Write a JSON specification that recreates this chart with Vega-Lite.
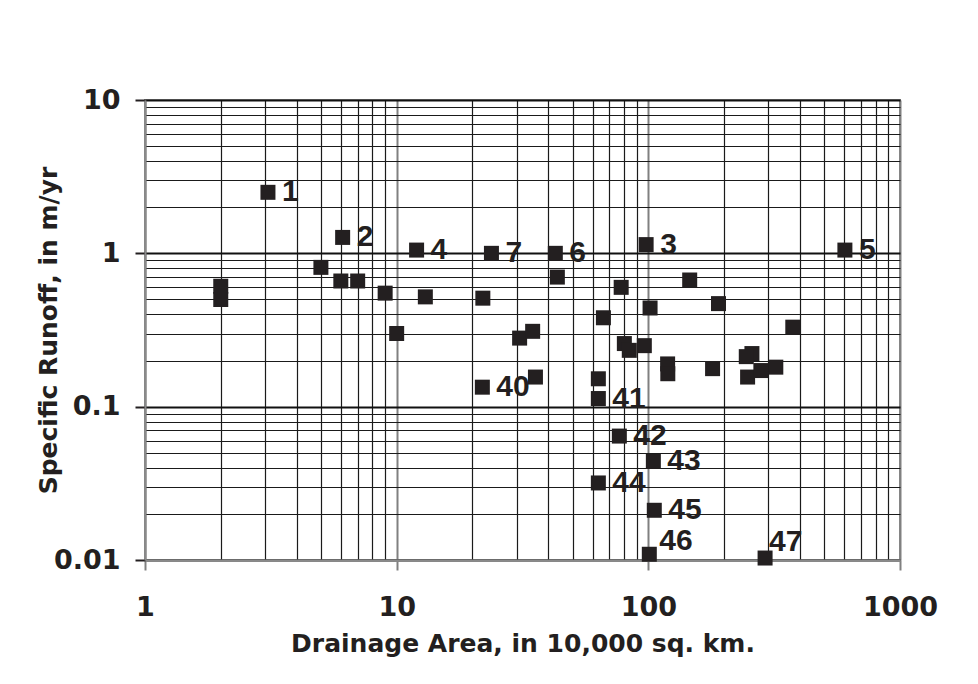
{
  "$schema": "https://vega.github.io/schema/vega-lite/v6.json",
  "width": 755,
  "height": 460,
  "autosize": "none",
  "padding": {"left": 145, "top": 100, "right": 78, "bottom": 124},
  "background": "white",
  "config": {"view": {"stroke": "#8a8a8a", "strokeWidth": 2}, "font": "DejaVu Sans"},
  "data": {"values": [
    {"area": 3.08, "runoff": 2.5, "label": "1"},
    {"area": 2.0, "runoff": 0.61, "label": ""},
    {"area": 2.0, "runoff": 0.5, "label": ""},
    {"area": 6.1, "runoff": 1.27, "label": "2"},
    {"area": 5.0, "runoff": 0.81, "label": ""},
    {"area": 6.0, "runoff": 0.66, "label": ""},
    {"area": 7.0, "runoff": 0.66, "label": ""},
    {"area": 9.0, "runoff": 0.55, "label": ""},
    {"area": 12.0, "runoff": 1.05, "label": "4"},
    {"area": 13.0, "runoff": 0.52, "label": ""},
    {"area": 10.0, "runoff": 0.3, "label": ""},
    {"area": 23.8, "runoff": 1.0, "label": "7"},
    {"area": 22.0, "runoff": 0.51, "label": ""},
    {"area": 42.7, "runoff": 1.0, "label": "6"},
    {"area": 43.5, "runoff": 0.7, "label": ""},
    {"area": 98, "runoff": 1.14, "label": "3"},
    {"area": 146, "runoff": 0.67, "label": ""},
    {"area": 78, "runoff": 0.6, "label": ""},
    {"area": 101.6, "runoff": 0.44, "label": ""},
    {"area": 190, "runoff": 0.47, "label": ""},
    {"area": 66.3, "runoff": 0.38, "label": ""},
    {"area": 375, "runoff": 0.33, "label": ""},
    {"area": 604, "runoff": 1.05, "label": "5"},
    {"area": 30.8, "runoff": 0.28, "label": ""},
    {"area": 34.7, "runoff": 0.31, "label": ""},
    {"area": 35.6, "runoff": 0.156, "label": ""},
    {"area": 21.9, "runoff": 0.134, "label": "40"},
    {"area": 80.3, "runoff": 0.258, "label": ""},
    {"area": 84, "runoff": 0.233, "label": ""},
    {"area": 96.4, "runoff": 0.25, "label": ""},
    {"area": 119.3, "runoff": 0.19, "label": ""},
    {"area": 119.5, "runoff": 0.164, "label": ""},
    {"area": 180, "runoff": 0.177, "label": ""},
    {"area": 258, "runoff": 0.222, "label": ""},
    {"area": 245, "runoff": 0.212, "label": ""},
    {"area": 248, "runoff": 0.156, "label": ""},
    {"area": 280, "runoff": 0.172, "label": ""},
    {"area": 321, "runoff": 0.181, "label": ""},
    {"area": 63.3, "runoff": 0.152, "label": ""},
    {"area": 63.3, "runoff": 0.113, "label": "41"},
    {"area": 76.7, "runoff": 0.0643, "label": "42"},
    {"area": 104.7, "runoff": 0.044, "label": "43"},
    {"area": 63.3, "runoff": 0.0318, "label": "44"},
    {"area": 105.6, "runoff": 0.0211, "label": "45"},
    {"area": 100.9, "runoff": 0.0109, "label": "46"},
    {"area": 291, "runoff": 0.0103, "label": "47"}
  ]},
  "encoding": {
    "x": {
      "field": "area", "type": "quantitative",
      "scale": {"type": "log", "domain": [1, 1000], "nice": false},
      "axis": {
        "values": [1,2,3,4,5,6,7,8,9,10,20,30,40,50,60,70,80,90,100,200,300,400,500,600,700,800,900,1000],
        "format": "~g",
        "labelExpr": "abs(log(datum.value)/LN10 - round(log(datum.value)/LN10)) < 1e-6 ? datum.label : ''",
        "title": "Drainage Area, in 10,000 sq. km.",
        "grid": true,
        "gridColor": {"condition": {"test": "abs(log(datum.value)/LN10 - round(log(datum.value)/LN10)) < 1e-6", "value": "#808080"}, "value": "#1a1a1a"},
        "gridWidth": {"condition": {"test": "abs(log(datum.value)/LN10 - round(log(datum.value)/LN10)) < 1e-6", "value": 2}, "value": 1.2},
        "tickOpacity": {"condition": {"test": "abs(log(datum.value)/LN10 - round(log(datum.value)/LN10)) < 1e-6", "value": 1}, "value": 0},
        "tickColor": "#808080", "tickWidth": 2, "tickSize": 10,
        "domainColor": "#8a8a8a", "domainWidth": 2,
        "labelFont": "DejaVu Sans", "labelFontWeight": "bold", "labelFontSize": 27, "labelColor": "#231f20",
        "labelPadding": 24, "labelFlush": false, "labelOverlap": false,
        "titleFont": "DejaVu Sans", "titleFontWeight": "bold", "titleFontSize": 25, "titleColor": "#231f20",
        "titleBaseline": "alphabetic", "titleY": 91
      }
    },
    "y": {
      "field": "runoff", "type": "quantitative",
      "scale": {"type": "log", "domain": [0.01, 10], "nice": false},
      "axis": {
        "values": [0.01,0.02,0.03,0.04,0.05,0.06,0.07,0.08,0.09,0.1,0.2,0.3,0.4,0.5,0.6,0.7,0.8,0.9,1,2,3,4,5,6,7,8,9,10],
        "format": "~g",
        "labelExpr": "abs(log(datum.value)/LN10 - round(log(datum.value)/LN10)) < 1e-6 ? datum.label : ''",
        "title": "Specific Runoff, in m/yr",
        "grid": true,
        "gridColor": {"condition": {"test": "abs(log(datum.value)/LN10 - round(log(datum.value)/LN10)) < 1e-6", "value": "#111111"}, "value": "#1a1a1a"},
        "gridWidth": {"condition": {"test": "abs(log(datum.value)/LN10 - round(log(datum.value)/LN10)) < 1e-6", "value": 2}, "value": 1.2},
        "tickOpacity": {"condition": {"test": "abs(log(datum.value)/LN10 - round(log(datum.value)/LN10)) < 1e-6", "value": 1}, "value": 0},
        "tickColor": "#231f20", "tickWidth": 2, "tickSize": 10,
        "domainColor": "#8a8a8a", "domainWidth": 2,
        "labelFont": "DejaVu Sans", "labelFontWeight": "bold", "labelFontSize": 27, "labelColor": "#231f20",
        "labelPadding": 15, "labelFlush": false, "labelOverlap": false,
        "titleFont": "DejaVu Sans", "titleFontWeight": "bold", "titleFontSize": 25, "titleColor": "#231f20",
        "titleAngle": -90, "titleBaseline": "bottom", "titleAlign": "center", "titleX": -84, "titleY": 230
      }
    }
  },
  "layer": [
    {"mark": {"type": "point", "shape": "square", "filled": true, "size": 225, "color": "#231f20", "opacity": 1}},
    {
      "transform": [{"filter": "datum.label != '' && datum.label != '46' && datum.label != '47'"}],
      "mark": {"type": "text", "font": "Liberation Sans", "fontWeight": "bold", "fontSize": 30, "align": "left", "baseline": "middle", "dx": 14, "color": "#231f20"},
      "encoding": {"text": {"field": "label"}}
    },
    {
      "transform": [{"filter": "datum.label == '46'"}],
      "mark": {"type": "text", "font": "Liberation Sans", "fontWeight": "bold", "fontSize": 30, "align": "left", "baseline": "middle", "dx": 10, "dy": -13, "color": "#231f20"},
      "encoding": {"text": {"field": "label"}}
    },
    {
      "transform": [{"filter": "datum.label == '47'"}],
      "mark": {"type": "text", "font": "Liberation Sans", "fontWeight": "bold", "fontSize": 30, "align": "left", "baseline": "middle", "dx": 4, "dy": -16, "color": "#231f20"},
      "encoding": {"text": {"field": "label"}}
    }
  ]
}
